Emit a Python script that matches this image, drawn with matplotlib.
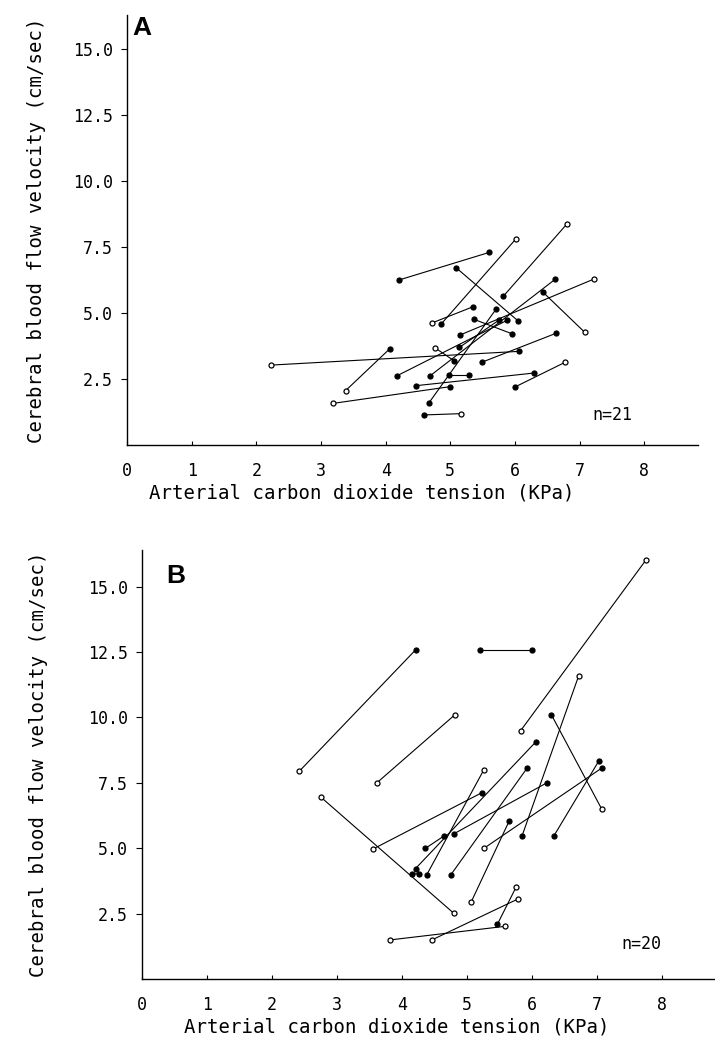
import matplotlib
matplotlib.use("Agg")
import matplotlib.pyplot as plt

# Panel A (n=21): each subject is one line, start point -> end point
# hollow flag: 1 = open circle, 0 = filled circle
a_x0 = [4.20, 6.01, 4.72, 6.80, 5.09, 6.43, 2.23, 3.38, 3.19, 4.98, 4.47,
        6.00, 4.59, 5.49, 4.76, 5.36, 5.71, 5.15, 4.68, 4.18, 5.14]
a_y0 = [6.25, 7.80, 4.63, 8.37, 6.72, 5.80, 3.03, 2.06, 1.58, 2.65, 2.25,
        2.20, 1.14, 3.14, 3.69, 4.77, 5.16, 4.17, 2.61, 2.63, 3.70]
a_x1 = [5.60, 4.86, 5.35, 5.82, 6.05, 7.08, 6.06, 4.06, 4.99, 5.29, 6.30,
        6.77, 5.17, 6.64, 5.06, 5.95, 4.67, 7.22, 6.62, 5.88, 5.75]
a_y1 = [7.30, 4.59, 5.24, 5.64, 4.70, 4.27, 3.55, 3.64, 2.21, 2.65, 2.73,
        3.13, 1.19, 4.24, 3.19, 4.22, 1.60, 6.29, 6.28, 4.73, 4.73]
a_hollow0 = [0, 1, 1, 1, 0, 0, 1, 1, 1, 0, 0, 0, 0, 0, 1, 0, 0, 0, 0, 0, 0]
a_hollow1 = [0, 0, 0, 0, 0, 1, 0, 0, 0, 0, 0, 1, 1, 0, 0, 0, 0, 1, 0, 0, 0]

# Panel B (n=20)
b_x0 = [2.42, 5.20, 3.62, 5.83, 6.72, 6.30, 6.34, 5.26, 3.55, 5.26,
        5.93, 6.06, 4.36, 4.80, 2.75, 4.16, 5.65, 3.81, 4.46, 5.47]
b_y0 = [7.94, 12.58, 7.51, 9.50, 11.58, 10.11, 5.47, 4.99, 4.96, 7.99,
        8.07, 9.06, 4.99, 5.55, 6.96, 4.01, 6.03, 1.49, 1.49, 2.09]
b_x1 = [4.21, 6.01, 4.82, 7.76, 5.85, 7.08, 7.03, 7.08, 5.23, 4.38,
        4.75, 4.21, 4.65, 6.24, 4.80, 4.26, 5.07, 5.58, 5.78, 5.76]
b_y1 = [12.58, 12.58, 10.11, 16.03, 5.47, 6.48, 8.33, 8.07, 7.12, 3.97,
        3.97, 4.22, 5.47, 7.51, 2.51, 4.03, 2.96, 2.01, 3.05, 3.52]
b_hollow0 = [1, 0, 1, 1, 1, 0, 0, 1, 1, 1, 0, 0, 0, 0, 1, 0, 0, 1, 1, 0]
b_hollow1 = [0, 0, 1, 1, 0, 1, 0, 0, 0, 0, 0, 0, 0, 0, 1, 0, 1, 1, 1, 1]

x_ticks = [0, 1, 2, 3, 4, 5, 6, 7, 8]
y_ticks = [2.5, 5.0, 7.5, 10.0, 12.5, 15.0]

MONO = "DejaVu Sans Mono"


def draw_pairs(ax, x0, y0, x1, y1, h0, h1):
    for i in range(len(x0)):
        ax.plot([x0[i], x1[i]], [y0[i], y1[i]], color="black", lw=0.8, zorder=2)
        for x, y, h in ((x0[i], y0[i], h0[i]), (x1[i], y1[i], h1[i])):
            ax.plot(x, y, "o", ms=3.6, mec="black", mew=0.9,
                    mfc="white" if h else "black", zorder=3)


def style_axes(ax, xmax, ymax, letter, letter_xy, n_text, n_xy, xlab_x, ylab_x):
    ax.set_xlim(0, xmax)
    ax.set_ylim(0, ymax)
    for s in ("top", "right"):
        ax.spines[s].set_visible(False)
    for s in ("left", "bottom"):
        ax.spines[s].set_linewidth(1.0)
    ax.set_xticks(x_ticks)
    ax.set_xticklabels([str(t) for t in x_ticks], family=MONO, fontsize=12)
    ax.set_yticks(y_ticks)
    ax.set_yticklabels(["%.1f" % t for t in y_ticks], family=MONO, fontsize=12)
    ax.tick_params(axis="x", direction="in", length=3, width=0.8, pad=12)
    ax.tick_params(axis="y", direction="out", length=4, width=0.8, pad=6)
    ax.set_xlabel("Arterial carbon dioxide tension (KPa)", family=MONO, fontsize=13.7)
    ax.xaxis.set_label_coords(xlab_x, -0.09)
    ax.set_ylabel("Cerebral blood flow velocity (cm/sec)", family=MONO, fontsize=13.7)
    ax.yaxis.set_label_coords(ylab_x, 0.5)
    ax.text(letter_xy[0], letter_xy[1], letter, fontsize=19, fontweight="bold",
            family="Liberation Sans", ha="left", va="center")
    ax.text(n_xy[0], n_xy[1], n_text, family=MONO, fontsize=12, ha="left", va="center")


fig = plt.figure(figsize=(7.15, 10.41), dpi=100)

ax_a = fig.add_axes([0.1776, 0.5725, 0.7986, 0.4131])
draw_pairs(ax_a, a_x0, a_y0, a_x1, a_y1, a_hollow0, a_hollow1)
style_axes(ax_a, 8.83, 16.3, "A", (0.08, 15.8), "n=21", (7.19, 1.14), 0.411, -0.142)

ax_b = fig.add_axes([0.1986, 0.0596, 0.8014, 0.412])
draw_pairs(ax_b, b_x0, b_y0, b_x1, b_y1, b_hollow0, b_hollow1)
style_axes(ax_b, 8.82, 16.4, "B", (0.38, 15.4), "n=20", (7.38, 1.34), 0.445, -0.164)

fig.savefig("out.png", dpi=100)
